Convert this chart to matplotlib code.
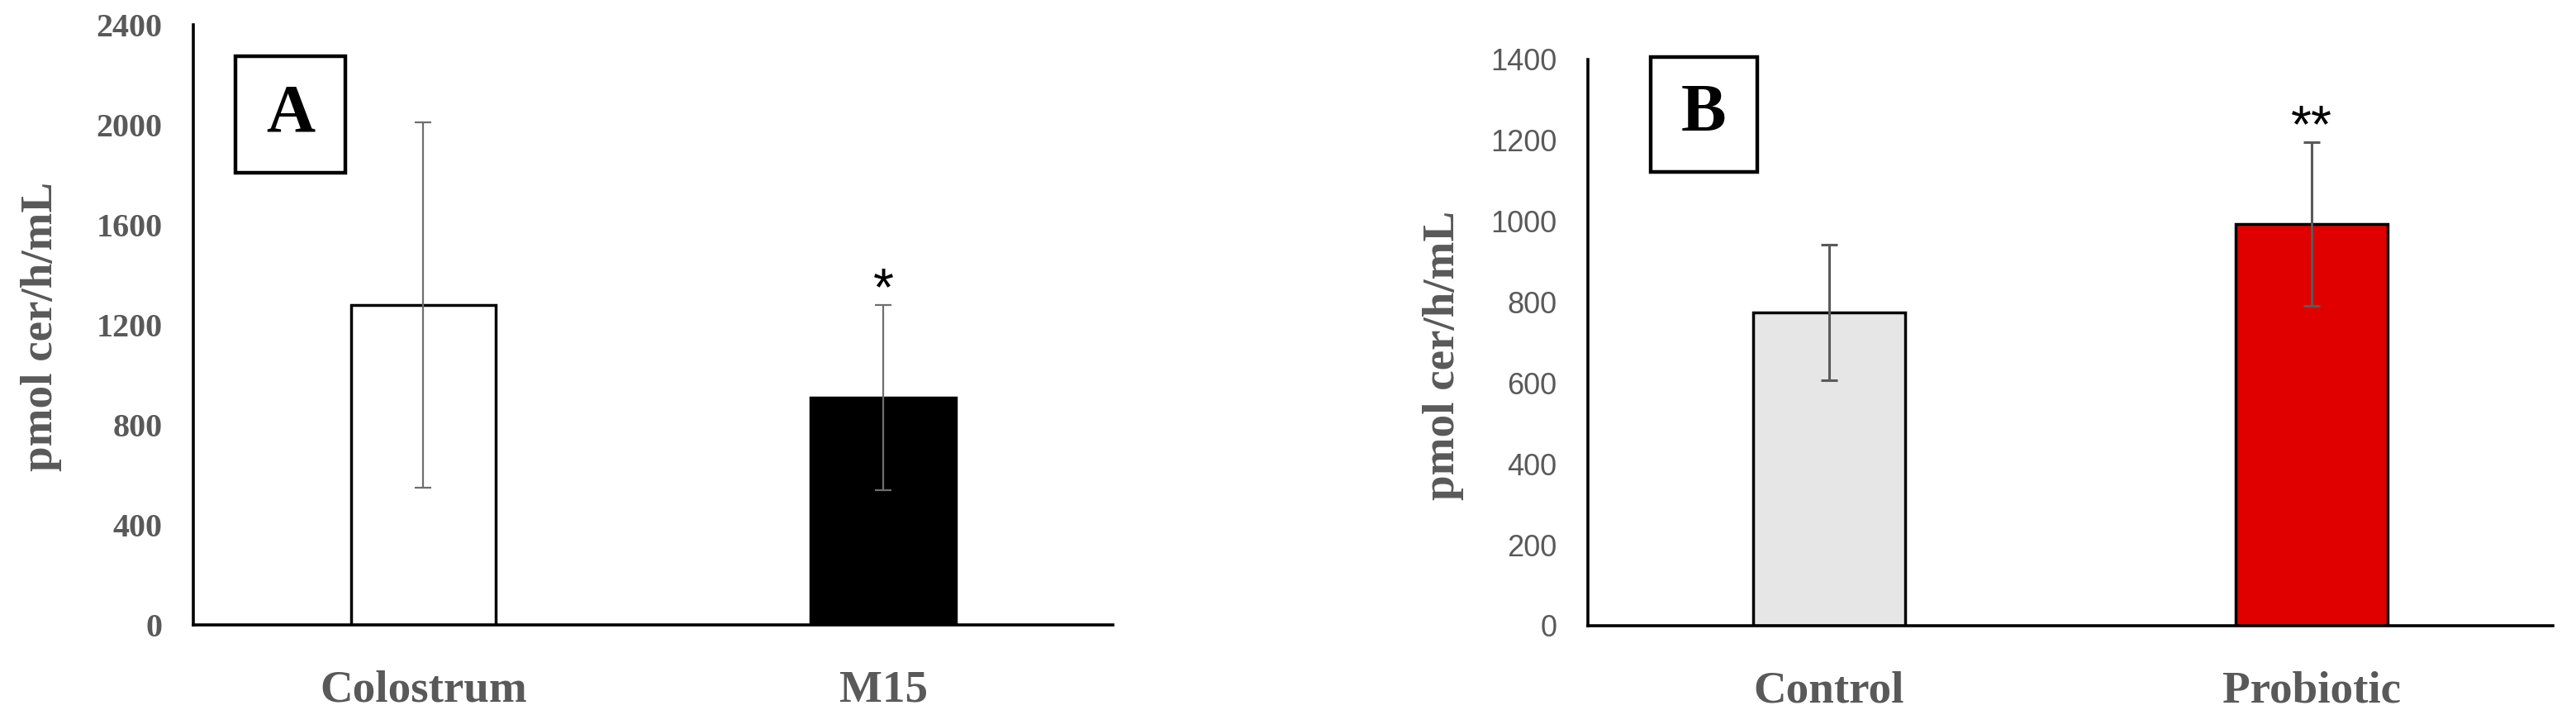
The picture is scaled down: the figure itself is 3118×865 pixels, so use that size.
import matplotlib
matplotlib.use("Agg")
import matplotlib.pyplot as plt
from matplotlib.patches import Rectangle

# panel A
groups_a = ["Colostrum", "M15"]
means_a = [1280, 910]
errs_a = [730, 370]
ticks_a = [0, 400, 800, 1200, 1600, 2000, 2400]

# panel B
groups_b = ["Control", "Probiotic"]
means_b = [775, 993]
errs_b = [168, 203]
ticks_b = [0, 200, 400, 600, 800, 1000, 1200, 1400]

serif = "Liberation Serif"
grey = "#595959"

fig = plt.figure(figsize=(31.18, 8.65), dpi=100)
ax_a = fig.add_axes([0.0751, 0.1260, 0.3570, 0.8393])
ax_b = fig.add_axes([0.6164, 0.1249, 0.3746, 0.7919])


def draw_panel(ax, groups, means, errs, ticks, colors, ecolor, elw,
               tickfont, ticksize, letter, box, label_xy, stars):
    x = range(len(groups))
    ax.bar(x, means, width=0.315, color=colors, edgecolor="black",
           linewidth=2.5, zorder=2)
    ax.errorbar(x, means, yerr=errs, fmt="none", ecolor=ecolor,
                elinewidth=elw, capsize=7, capthick=elw, zorder=3)
    ax.set_xlim(-0.5, len(groups) - 0.5)
    ax.set_ylim(ticks[0], ticks[-1])
    ax.set_yticks(ticks)
    ax.set_xticks(list(x))
    ax.set_xticklabels(groups, fontfamily=serif, fontweight="bold",
                       fontsize=39.6, color=grey)
    for lab in ax.get_yticklabels():
        lab.set_fontfamily(tickfont)
        lab.set_fontsize(ticksize)
        lab.set_color(grey)
        if tickfont == serif:
            lab.set_fontweight("bold")
    ax.tick_params(axis="y", length=0, pad=27)
    ax.tick_params(axis="x", length=0, pad=39)
    for s in ["top", "right"]:
        ax.spines[s].set_visible(False)
    for s in ["left", "bottom"]:
        ax.spines[s].set_linewidth(2.6)
        ax.spines[s].set_zorder(4)
    ax.set_ylabel("pmol cer/h/mL", fontfamily=serif, fontweight="bold",
                  fontsize=39.6, color=grey)
    ax.yaxis.label.set_va("center")
    ax.yaxis.set_label_coords(*label_xy)

    x0, x1, y0, y1 = box
    ax.add_patch(Rectangle((x0, y0), x1 - x0, y1 - y0, transform=ax.transAxes,
                           fill=False, edgecolor="black", linewidth=3.2,
                           clip_on=False, zorder=5))
    ax.text((x0 + x1) / 2, (y0 + y1) / 2, letter, transform=ax.transAxes,
            ha="center", va="center", fontfamily=serif, fontweight="bold",
            fontsize=59)

    for i, s in stars.items():
        ax.annotate(s, xy=(i, means[i] + errs[i]), xytext=(0, 12),
                    textcoords="offset points", ha="center", va="center",
                    fontfamily="Liberation Sans", fontsize=46)


draw_panel(ax_a, groups_a, means_a, errs_a, ticks_a, ["white", "black"],
           "#6e6e6e", 1.6, serif, 28.8, "A",
           (0.0458, 0.1653, 0.7534, 0.9477), (-0.1653, 0.497), {1: "*"})
draw_panel(ax_b, groups_b, means_b, errs_b, ticks_b, ["#e6e6e6", "#e00000"],
           "#5a5a5a", 2.2, "Liberation Sans", 26, "B",
           (0.0651, 0.1755, 0.8015, 1.0044), (-0.1498, 0.477), {1: "**"})

fig.savefig("out.png", dpi=100)
